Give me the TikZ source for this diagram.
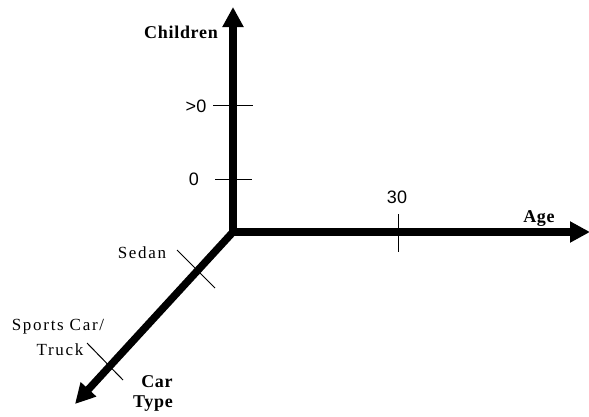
\documentclass[tikz,border=0pt]{standalone}
\usepackage{fontspec}
\setmainfont{Liberation Serif}
\newfontfamily\spacedserif[LetterSpace=10]{Liberation Serif}
\newfontfamily\boldserif[LetterSpace=4]{Liberation Serif}
\newfontfamily\ticksans{Liberation Sans}
\usetikzlibrary{arrows.meta}
\begin{document}
\begin{tikzpicture}[x=1pt,y=-1pt,
  axis/.style={line width=7.5pt,-{Triangle[length=20pt,width=20pt]}},
  tick/.style={line width=1pt},
  lab/.style={font=\fontsize{17}{19}\selectfont\spacedserif,inner sep=0pt,anchor=base},
  num/.style={font=\fontsize{18}{20}\selectfont\ticksans,inner sep=0pt,anchor=base},
  albl/.style={font=\fontsize{18}{20}\selectfont\boldserif\bfseries,inner sep=0pt,anchor=base}]
\useasboundingbox (0,0) rectangle (589,416);
\coordinate (o) at (233,232);
\coordinate (ytip) at (233,7);
\coordinate (xtip) at (590,232);
\coordinate (ztip) at (75,404);
\draw[axis] (o) -- (ytip);
\draw[axis] (o) -- (xtip);
\draw[axis] (o) -- (ztip);
% ticks
\coordinate (t1a) at (213,105); \coordinate (t1b) at (253,105);
\coordinate (t2a) at (215,179); \coordinate (t2b) at (252,179);
\coordinate (t3a) at (398,214); \coordinate (t3b) at (398,252);
\coordinate (t4a) at (177,250); \coordinate (t4b) at (215,288);
\coordinate (t5a) at (87,343); \coordinate (t5b) at (123,380);
\draw[tick] (t1a) -- (t1b);
\draw[tick] (t2a) -- (t2b);
\draw[tick] (t3a) -- (t3b);
\draw[tick] (t4a) -- (t4b);
\draw[tick] (t5a) -- (t5b);
% labels
\node[albl] (children) at (181,38) {Children};
\node[albl] (age) at (539,222) {Age};
\node[albl] (car) at (157,387) {Car};
\node[albl] (type) at (153,407) {Type};
\node[num] (gt0) at (196,112) {>0};
\node[num] (zero) at (194,185) {0};
\node[num] (thirty) at (397,203) {30};
\node[lab] (sedan) at (142,258) {Sedan};
\node[lab] (sports) at (58,330) {Sports Car/};
\node[lab] (truck) at (60,355) {Truck};
\end{tikzpicture}
\end{document}
